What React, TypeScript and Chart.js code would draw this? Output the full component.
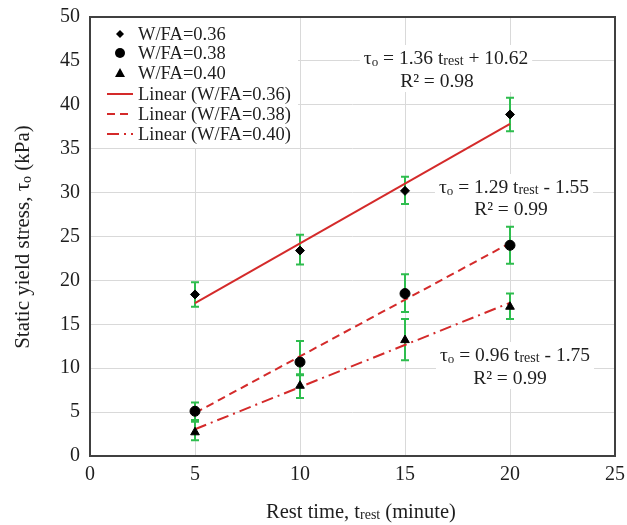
import React, { useEffect, useRef } from "react";
import { Chart, registerables } from "chart.js";
Chart.register(...registerables);

const restTimes = [5, 10, 15, 20];
const tau036 = [18.4, 23.4, 30.2, 38.9];
const tau036Low = [17.0, 21.8, 28.7, 37.0];
const tau036High = [19.8, 25.2, 31.8, 40.8];
const tau038 = [5.1, 10.7, 18.5, 24.0];
const tau038Low = [4.1, 9.2, 16.4, 21.9];
const tau038High = [6.1, 13.1, 20.7, 26.1];
const tau040 = [2.7, 8.0, 13.2, 17.0];
const tau040Low = [1.8, 6.6, 10.9, 15.6];
const tau040High = [3.9, 9.3, 15.6, 18.5];
const trendX = [5, 20];
const trend036 = [17.42, 37.82];
const trend038 = [4.9, 24.25];
const trend040 = [3.05, 17.45];
const xTicks = [0, 5, 10, 15, 20, 25];
const yTicks = [0, 5, 10, 15, 20, 25, 30, 35, 40, 45, 50];
const seriesLabels = ["W/FA=0.36", "W/FA=0.38", "W/FA=0.40"];
const trendLabels = ["Linear (W/FA=0.36)", "Linear (W/FA=0.38)", "Linear (W/FA=0.40)"];
const eqSlopes = ["1.36", "1.29", "0.96"];
const eqSigns = ["+", "-", "-"];
const eqIntercepts = ["10.62", "1.55", "1.75"];
const eqR2 = ["0.98", "0.99", "0.99"];

const SERIF = '"Liberation Serif", "Times New Roman", serif';
const RED = "#d42a2a";
const GREEN = "#2ebd4e";
const TEXT = "#1e1e1e";

type Seg = { t: string; s: number; dy: number };

function richWidth(ctx: CanvasRenderingContext2D, segs: Seg[]) {
  let w = 0;
  for (const g of segs) {
    ctx.font = `${g.s}px ${SERIF}`;
    w += ctx.measureText(g.t).width;
  }
  return w;
}
function drawRich(ctx: CanvasRenderingContext2D, segs: Seg[], cx: number, cy: number) {
  const w = richWidth(ctx, segs);
  let x = cx - w / 2;
  ctx.textBaseline = "alphabetic";
  ctx.textAlign = "left";
  for (const g of segs) {
    ctx.font = `${g.s}px ${SERIF}`;
    ctx.fillText(g.t, x, cy + 7 + g.dy);
    x += ctx.measureText(g.t).width;
  }
  return w;
}
function eqSegs(i: number): Seg[] {
  return [
    { t: "τ", s: 19.5, dy: 0 },
    { t: "o", s: 13, dy: 2 },
    { t: ` = ${eqSlopes[i]} t`, s: 19.5, dy: 0 },
    { t: "rest", s: 14, dy: 1 },
    { t: ` ${eqSigns[i]} ${eqIntercepts[i]}`, s: 19.5, dy: 0 },
  ];
}

const errorBarPlugin = {
  id: "errbars",
  beforeDatasetsDraw(chart: any) {
    const ctx = chart.ctx;
    const xs = chart.scales.x;
    const ys = chart.scales.y;
    const sets = [
      [tau036Low, tau036High],
      [tau038Low, tau038High],
      [tau040Low, tau040High],
    ];
    ctx.save();
    ctx.strokeStyle = GREEN;
    ctx.lineWidth = 2;
    for (const [lo, hi] of sets) {
      restTimes.forEach((t, k) => {
        const x = xs.getPixelForValue(t);
        const y1 = ys.getPixelForValue(lo[k]);
        const y2 = ys.getPixelForValue(hi[k]);
        ctx.beginPath();
        ctx.moveTo(x, y1);
        ctx.lineTo(x, y2);
        ctx.moveTo(x - 4, y1);
        ctx.lineTo(x + 4, y1);
        ctx.moveTo(x - 4, y2);
        ctx.lineTo(x + 4, y2);
        ctx.stroke();
      });
    }
    ctx.restore();
  },
};

const decorPlugin = {
  id: "decor",
  afterDraw(chart: any) {
    const ctx: CanvasRenderingContext2D = chart.ctx;
    const a = chart.chartArea;
    ctx.save();
    // equation labels: [eq centre x, eq y, R2 centre x, R2 y]
    const labelPos = [
      [446, 57, 437, 80],
      [514, 186, 511, 208],
      [515, 354, 510, 377],
    ];
    labelPos.forEach(([cx, y1, rx, y2], i) => {
      const segs = eqSegs(i);
      const w = richWidth(ctx, segs);
      ctx.fillStyle = "#ffffff";
      ctx.fillRect(cx - w / 2 - 4, y1 - 12, w + 8, y2 - y1 + 24);
      ctx.fillStyle = TEXT;
      drawRich(ctx, segs, cx, y1);
      drawRich(ctx, [{ t: `R² = ${eqR2[i]}`, s: 19.5, dy: 0 }], rx, y2);
    });

    // legend
    ctx.fillStyle = "#ffffff";
    ctx.fillRect(a.left + 1, a.top + 1, 207, 130);
    const lx = a.left + 30;
    const rows = [34, 53, 73, 94, 114, 134];
    ctx.fillStyle = "#000";
    ctx.beginPath();
    ctx.moveTo(lx, rows[0] - 4);
    ctx.lineTo(lx + 4, rows[0]);
    ctx.lineTo(lx, rows[0] + 4);
    ctx.lineTo(lx - 4, rows[0]);
    ctx.closePath();
    ctx.fill();
    ctx.beginPath();
    ctx.arc(lx, rows[1], 5, 0, Math.PI * 2);
    ctx.fill();
    ctx.beginPath();
    ctx.moveTo(lx, rows[2] - 5);
    ctx.lineTo(lx + 5, rows[2] + 4);
    ctx.lineTo(lx - 5, rows[2] + 4);
    ctx.closePath();
    ctx.fill();
    ctx.strokeStyle = RED;
    ctx.lineWidth = 2;
    const dashes = [[], [8, 5], [12, 5, 2, 5]];
    for (let i = 0; i < 3; i++) {
      ctx.setLineDash(dashes[i]);
      ctx.beginPath();
      ctx.moveTo(a.left + 17, rows[3 + i]);
      ctx.lineTo(a.left + 43, rows[3 + i]);
      ctx.stroke();
    }
    ctx.setLineDash([]);
    ctx.fillStyle = TEXT;
    ctx.font = `18.5px ${SERIF}`;
    ctx.textAlign = "left";
    ctx.textBaseline = "middle";
    const texts = [...seriesLabels, ...trendLabels];
    texts.forEach((t, i) => {
      ctx.fillText(t, a.left + 48, rows[i] + 1);
    });

    // border
    ctx.strokeStyle = "#404040";
    ctx.lineWidth = 2;
    ctx.strokeRect(a.left, a.top, a.right - a.left, a.bottom - a.top);

    // y title
    ctx.save();
    ctx.translate(22, 237);
    ctx.rotate(-Math.PI / 2);
    ctx.fillStyle = TEXT;
    drawRich(
      ctx,
      [
        { t: "Static yield stress, τ", s: 21, dy: 0 },
        { t: "o", s: 14, dy: 2 },
        { t: " (kPa)", s: 21, dy: 0 },
      ],
      0,
      0
    );
    ctx.restore();
    // x title
    ctx.fillStyle = TEXT;
    drawRich(
      ctx,
      [
        { t: "Rest time, t", s: 20.5, dy: 0 },
        { t: "rest", s: 14, dy: 1 },
        { t: " (minute)", s: 20.5, dy: 0 },
      ],
      361,
      511
    );
    ctx.restore();
  },
};

const zeroPad = (s: any) => {
  s.paddingTop = 0;
  s.paddingBottom = 0;
  s.paddingLeft = 0;
  s.paddingRight = 0;
};

export default function App() {
  const ref = useRef<HTMLCanvasElement | null>(null);
  useEffect(() => {
    document.body.style.margin = "0";
    if (!ref.current) return;
    const pts = (ys: number[]) => restTimes.map((x, i) => ({ x, y: ys[i] }));
    const tl = (ys: number[]) => trendX.map((x, i) => ({ x, y: ys[i] }));
    const chart = new Chart(ref.current, {
      type: "scatter",
      data: {
        datasets: [
          { label: seriesLabels[0], data: pts(tau036), pointStyle: "rectRot", radius: 4.5, backgroundColor: "#000", borderColor: "#000", showLine: false },
          { label: seriesLabels[1], data: pts(tau038), pointStyle: "circle", radius: 5, backgroundColor: "#000", borderColor: "#000", showLine: false },
          { label: seriesLabels[2], data: pts(tau040), pointStyle: "triangle", radius: 5, backgroundColor: "#000", borderColor: "#000", showLine: false },
          { label: trendLabels[0], data: tl(trend036), showLine: true, borderColor: RED, borderWidth: 2, pointRadius: 0 },
          { label: trendLabels[1], data: tl(trend038), showLine: true, borderColor: RED, borderWidth: 2, borderDash: [8, 5], pointRadius: 0 },
          { label: trendLabels[2], data: tl(trend040), showLine: true, borderColor: RED, borderWidth: 2, borderDash: [12, 5, 2, 5], pointRadius: 0 },
        ] as any,
      },
      options: {
        animation: false,
        responsive: false,
        maintainAspectRatio: false,
        layout: { autoPadding: false, padding: { top: 17, right: 12, left: 0, bottom: 0 } },
        plugins: { legend: { display: false }, tooltip: { enabled: false } },
        scales: {
          x: {
            type: "linear",
            min: 0,
            max: 25,
            afterBuildTicks: (s: any) => {
              s.ticks = xTicks.map((v) => ({ value: v }));
            },
            afterFit: (s: any) => {
              s.height = 69;
              zeroPad(s);
            },
            grid: { color: "#d9d9d9", drawTicks: false },
            border: { display: false },
            ticks: { color: TEXT, font: { family: SERIF, size: 20 }, padding: 7 },
          },
          y: {
            type: "linear",
            min: 0,
            max: 50,
            afterBuildTicks: (s: any) => {
              s.ticks = yTicks.map((v) => ({ value: v }));
            },
            afterFit: (s: any) => {
              s.width = 90;
              zeroPad(s);
            },
            grid: { color: "#d9d9d9", drawTicks: false },
            border: { display: false },
            ticks: { color: TEXT, font: { family: SERIF, size: 20 }, padding: 10 },
          },
        },
      } as any,
      plugins: [errorBarPlugin, decorPlugin],
    });
    return () => chart.destroy();
  }, []);
  return <canvas ref={ref} width={627} height={525} />;
}
